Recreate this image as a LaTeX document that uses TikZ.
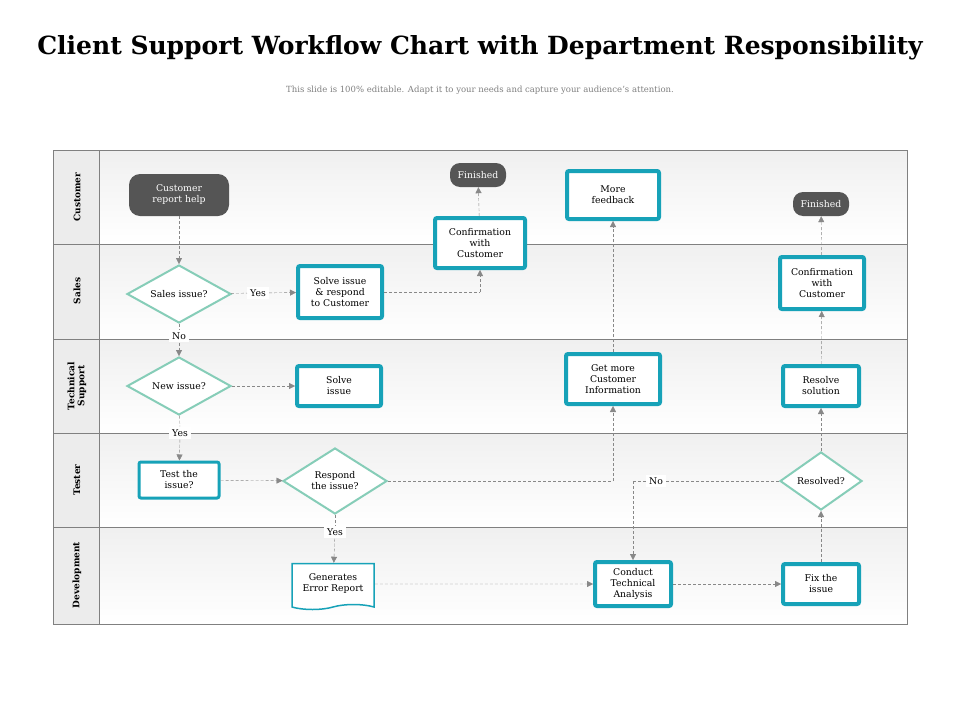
\documentclass[tikz,border=0pt]{standalone}
\usepackage{fontspec}
\setmainfont{DejaVu Serif}
\usetikzlibrary{shapes.geometric,shapes.symbols,arrows.meta,calc}
\definecolor{teal1}{HTML}{17A2B8}
\definecolor{mint}{HTML}{86CDB8}
\definecolor{dk}{HTML}{555555}
\definecolor{ln}{HTML}{888888}
\begin{document}
\begin{tikzpicture}[x=1pt,y=-1pt,
  txt/.style={font=\fontsize{9.3}{11}\selectfont,align=center},
  box/.style={txt,draw=teal1,line width=4pt,fill=white,rounded corners=2pt,inner sep=1pt},
  term/.style={txt,fill=dk,text=white,rounded corners=11pt,inner sep=2pt},
  dia/.style={txt,diamond,aspect=1.8,draw=mint,line width=2pt,fill=white,inner sep=0pt},
  lab/.style={txt,fill=white,inner sep=3pt},
  ar/.style={draw=ln,dashed,dash pattern=on 3pt off 2pt,-{Triangle[length=6pt,width=6pt]},thin},
  ln/.style={draw=ln,dashed,dash pattern=on 3pt off 2pt,thin},
  lane/.style={font=\bfseries\fontsize{9}{10}\selectfont,rotate=90,align=center}]
\useasboundingbox (0,0) rectangle (960,720);
\fill[white] (0,0) rectangle (960,720);
\node at (480,48) {\fontsize{25}{28}\bfseries\selectfont Client Support Workflow Chart with Department Responsibility};
\node[text=gray] at (480,90) {\fontsize{8.5}{10}\selectfont This slide is 100\% editable. Adapt it to your needs and capture your audience's attention.};
% lanes
\foreach \a/\b in {150/244,244/339,339/433,433/527,527/624}{
  \shade[top color=gray!12,bottom color=white] (99,\a) rectangle (907,\b);
  \fill[gray!15] (53,\a) rectangle (99,\b);}
\draw[gray] (53,150) rectangle (907,624);
\draw[gray] (99,150) -- (99,624);
\foreach \y in {244,339,433,527} \draw[gray] (53,\y) -- (907,\y);
\node[lane] (l1) at (77,197) {Customer};
\node[lane] (l2) at (77,291) {Sales};
\node[lane] (l3) at (77,386) {Technical\\Support};
\node[lane] (l4) at (77,480) {Tester};
\node[lane] (l5) at (77,575) {Development};
% nodes
\node[term,minimum width=100,minimum height=42] (crh) at (179,195) {Customer\\report help};
\node[term,minimum width=56,minimum height=24,rounded corners=10pt] (f1) at (478,175) {Finished};
\node[box,minimum width=90,minimum height=50] (cwc) at (480,243) {Confirmation\\with\\Customer};
\node[box,minimum width=92,minimum height=48] (mf) at (613,195) {More\\feedback};
\node[term,minimum width=56,minimum height=24,rounded corners=10pt] (f2) at (821,204) {Finished};
\node[dia,minimum width=104,minimum height=58] (si) at (179,294) {Sales issue?};
\node[box,minimum width=84,minimum height=52] (sr) at (340,292) {Solve issue\\\& respond\\to Customer};
\node[box,minimum width=84,minimum height=52] (cwc2) at (822,283) {Confirmation\\with\\Customer};
\node[dia,minimum width=104,minimum height=58] (ni) at (179,386) {New issue?};
\node[box,minimum width=84,minimum height=40] (so) at (339,386) {Solve\\issue};
\node[box,minimum width=94,minimum height=50] (gm) at (613,379) {Get more\\Customer\\Information};
\node[box,minimum width=76,minimum height=40] (rs) at (821,386) {Resolve\\solution};
\node[box,minimum width=80,minimum height=36,line width=3pt] (ti) at (179,480) {Test the\\issue?};
\node[dia,minimum width=104,minimum height=66] (ri) at (335,481) {Respond\\the issue?};
\node[dia,minimum width=82,minimum height=58] (rv) at (821,481) {Resolved?};
\node[txt,tape,tape bend top=none,draw=teal1,line width=1.5pt,fill=white,minimum width=82,minimum height=46] (er) at (333,584) {Generates\\Error Report};
\node[box,minimum width=76,minimum height=44] (ct) at (633,584) {Conduct\\Technical\\Analysis};
\node[box,minimum width=76,minimum height=40] (fx) at (821,584) {Fix the\\issue};
% edges
\draw[ar] (crh) -- (si);
\node[lab] (y1) at (258,293) {Yes};
\draw[ln] (si) -- (y1); \draw[ar] (y1) -- (sr);
\coordinate (c1) at (480,292);
\draw[ln] (sr) -- (c1); \draw[ar] (c1) -- (cwc);
\draw[ar] (cwc) -- (f1);
\node[lab] (n1) at (179,336) {No};
\draw[ln] (si) -- (n1); \draw[ar] (n1) -- (ni);
\draw[ar] (ni) -- (so);
\node[lab] (y2) at (180,433) {Yes};
\draw[ln] (ni) -- (y2); \draw[ar] (y2) -- (ti);
\draw[ar] (ti) -- (ri);
\coordinate (c2) at (613,481);
\draw[ln] (ri) -- (c2); \draw[ar] (c2) -- (gm);
\draw[ar] (gm) -- (mf);
\node[lab] (y3) at (335,532) {Yes};
\draw[ln] (ri) -- (y3); \draw[ar] (y3) -- (er);
\node[lab] (n2) at (656,481) {No};
\coordinate (c3) at (633,481);
\draw[ln] (rv) -- (n2); \draw[ln] (n2) -- (c3); \draw[ar] (c3) -- (ct);
\draw[ar] (er) -- (ct);
\draw[ar] (ct) -- (fx);
\draw[ar] (fx) -- (rv);
\draw[ar] (rv) -- (rs);
\draw[ar] (rs) -- (cwc2);
\draw[ar] (cwc2) -- (f2);
\end{tikzpicture}
\end{document}
